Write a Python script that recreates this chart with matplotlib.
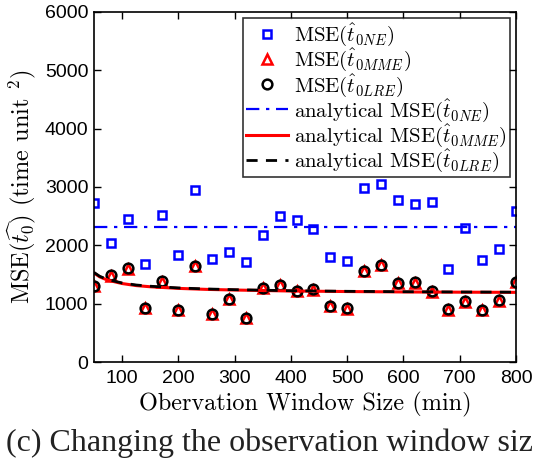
import matplotlib
matplotlib.use("Agg")
import matplotlib.pyplot as plt
import numpy as np

plt.rcParams['mathtext.fontset'] = 'cm'

window = [50, 80, 110, 140, 170, 200, 230, 260, 290, 320, 350, 380, 410,
          440, 470, 500, 530, 560, 590, 620, 650, 680, 710, 740, 770, 800]
mse_ne = [2720, 2040, 2452, 1686, 2514, 1840, 2943, 1766, 1886, 1720, 2171, 2497, 2434,
          2274, 1800, 1737, 2977, 3057, 2771, 2714, 2743, 1600, 2303, 1743, 1931, 2583]
mse_mme = [1295, 1480, 1600, 925, 1380, 890, 1640, 815, 1080, 755, 1270, 1325, 1215,
           1240, 960, 915, 1560, 1665, 1355, 1362, 1205, 898, 1035, 892, 1050, 1372]
mse_lre = [1303, 1486, 1611, 931, 1383, 897, 1646, 823, 1086, 760, 1274, 1320, 1223,
           1246, 966, 920, 1566, 1669, 1360, 1366, 1211, 903, 1040, 897, 1057, 1377]

an_x = [50, 60, 70, 80, 100, 125, 150, 200, 250, 300, 400, 500, 600, 700, 800]
an_ne = [2320] * len(an_x)
an_mme = [1525, 1460, 1420, 1390, 1345, 1310, 1290, 1262, 1245, 1234, 1217, 1208, 1201, 1197, 1194]
an_lre = [1535, 1470, 1430, 1400, 1355, 1320, 1299, 1270, 1252, 1240, 1222, 1212, 1205, 1200, 1197]

xticks = [100, 200, 300, 400, 500, 600, 700, 800]
yticks = [0, 1000, 2000, 3000, 4000, 5000, 6000]

fig = plt.figure(figsize=(5.33, 4.59), dpi=100)
ax = fig.add_axes([0.1764, 0.2113, 0.7916, 0.7626])

ax.plot(window, mse_ne, 's', mfc='none', mec='#0000ff', ms=6, mew=1.8,
        label=r'MSE($\hat{t}_{0NE}$)')
ax.plot(window, mse_mme, '^', mfc='none', mec='#ff0000', ms=7.5, mew=1.8,
        label=r'MSE($\hat{t}_{0MME}$)')
ax.plot(window, mse_lre, 'o', mfc='none', mec='black', ms=7, mew=1.8,
        label=r'MSE($\hat{t}_{0LRE}$)')
ax.plot(an_x, an_ne, linestyle=(0, (6, 3, 1.5, 3)), color='#0000ff', lw=1.6,
        label=r'analytical MSE($\hat{t}_{0NE}$)')
ax.plot(an_x, an_mme, '-', color='#ff0000', lw=2.2,
        label=r'analytical MSE($\hat{t}_{0MME}$)')
ax.plot(an_x, an_lre, '--', color='black', lw=2.0, dashes=(4, 3),
        label=r'analytical MSE($\hat{t}_{0LRE}$)')

ax.set_xlim(50, 800)
ax.set_ylim(0, 6000)
ax.set_xticks(xticks)
ax.set_yticks(yticks)
ax.tick_params(direction='in', top=True, right=True, length=5, width=1,
               labelsize=14)
ax.tick_params(axis='x', pad=6)
ax.tick_params(axis='y', pad=4)
for lab in ax.get_xticklabels() + ax.get_yticklabels():
    lab.set_family(['Liberation Sans', 'DejaVu Sans'])
for s in ax.spines.values():
    s.set_linewidth(1.2)

ax.set_xlabel('Obervation Window Size (min)', family='cmr10', fontsize=17.5, labelpad=3)
ax.set_ylabel(r'MSE($\widehat{t_0}$) (time unit $^2$)', family='cmr10', fontsize=17.5, labelpad=4)

leg = ax.legend(loc='upper right', prop={'family': 'cmr10', 'size': 15},
                frameon=True, fancybox=False, edgecolor='black',
                borderaxespad=0.3, handlelength=2.0, handletextpad=0.3,
                labelspacing=-0.08, borderpad=0.15)
leg.get_frame().set_linewidth(1.2)

fig.text(0.012, 0.035, '(c) Changing the observation window siz',
         family='Liberation Serif', fontsize=23, ha='left', va='center', color='#222222')

fig.savefig('out.png', dpi=100)
